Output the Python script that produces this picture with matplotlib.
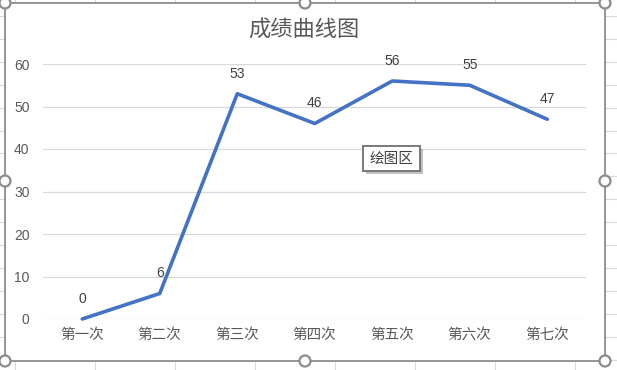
import matplotlib
matplotlib.use("Agg")
import matplotlib.pyplot as plt
from matplotlib.patches import Rectangle, Ellipse
from matplotlib.lines import Line2D
from matplotlib.transforms import IdentityTransform

categories = ["第一次", "第二次", "第三次", "第四次", "第五次", "第六次", "第七次"]
scores = [0, 6, 53, 46, 56, 55, 47]
yticks = [0, 10, 20, 30, 40, 50, 60]
title = "成绩曲线图"
tooltip = "绘图区"

W, H = 617, 370
CJK = ["Noto Sans CJK SC", "DejaVu Sans"]
NUM = ["Liberation Sans", "DejaVu Sans"]
plt.rcParams["font.family"] = CJK

fig = plt.figure(figsize=(W / 100, H / 100), dpi=100)
fig.patch.set_facecolor("white")

def fx(x):
    return x / W

def fy(y):
    return 1 - y / H

# spreadsheet grid behind the chart
grid_c = "#d9d9d9"
col_x = [15, 95, 175, 255, 335, 415, 495, 575]
for x in col_x:
    fig.add_artist(Line2D([fx(x), fx(x)], [0, 1], color=grid_c, lw=0.8, zorder=0))
row_y = [16 + 22.9 * i for i in range(16)]
for y in row_y:
    fig.add_artist(Line2D([0, 1], [fy(y), fy(y)], color=grid_c, lw=0.8, zorder=0))

# chart area
fig.add_artist(Rectangle((fx(5), fy(361)), fx(605) - fx(5), fy(3) - fy(361),
                         facecolor="white", edgecolor="#8c8c8c", lw=1.3, zorder=1))

ax = fig.add_axes([fx(43.5), fy(319), fx(586) - fx(43.5), fy(64) - fy(319)], zorder=2)
ax.set_facecolor("none")
x = list(range(len(categories)))
ax.plot(x, scores, color="#4472C4", lw=2.6, solid_joinstyle="round",
        solid_capstyle="round", clip_on=False, zorder=3)
for xi, v in zip(x, scores):
    ax.annotate(str(v), (xi, v), xytext=(0, 14.5), textcoords="offset points",
                ha="center", va="center", fontsize=10, color="#404040", family=NUM)
ax.set_xlim(-0.5, len(categories) - 0.5)
ax.set_ylim(0, 60)
ax.set_yticks(yticks)
ax.set_yticklabels([str(t) for t in yticks], family=NUM, fontsize=10, color="#595959")
ax.set_xticks(x)
ax.set_xticklabels(categories, fontsize=10.5, color="#595959")
ax.tick_params(axis="y", length=0, pad=10)
ax.tick_params(axis="x", length=0, pad=6.5)
ax.grid(axis="y", color="#d9d9d9", lw=0.9)
ax.set_axisbelow(True)
for s in ax.spines.values():
    s.set_visible(False)

fig.text(fx(304), fy(30), title, ha="center", va="center", fontsize=16, color="#595959")

# tooltip box with shadow
fig.add_artist(Rectangle((fx(366), fy(174)), fx(57), fy(0) - fy(25),
                         facecolor="#9a9a9a", edgecolor="none", alpha=0.6, zorder=5))
fig.add_artist(Rectangle((fx(363), fy(171)), fx(57), fy(0) - fy(25),
                         facecolor="white", edgecolor="#707070", lw=1.3, zorder=6))
fig.text(fx(391.5), fy(158.5), tooltip, ha="center", va="center", fontsize=10.5,
         color="#404040", zorder=7)

# selection handles
for hx, hy in [(5, 3), (305, 3), (605, 3), (5, 181), (605, 181),
               (5, 361), (305, 361), (605, 361)]:
    e = Ellipse((hx, H - hy), 11, 11, transform=IdentityTransform(),
                facecolor="white", edgecolor="#8c8c8c", lw=1.6, zorder=8)
    fig.add_artist(e)

fig.savefig("out.png", dpi=100)
